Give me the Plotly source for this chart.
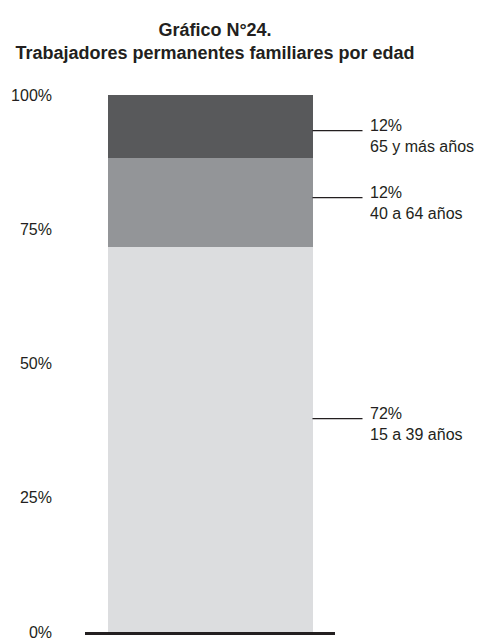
import plotly.graph_objects as go

# Data
categories = ["Trabajadores permanentes familiares"]
groups = ["15 a 39 años", "40 a 64 años", "65 y más años"]
values = [71.7, 16.6, 11.7]
label_pct = ["72%", "12%", "12%"]
colors = ["#dcdddf", "#939598", "#58595b"]
tick_vals = [0, 25, 50, 75, 100]
tick_text = ["0%", "25%", "50%", "75%", "100%"]

FONT = "Liberation Sans, Arial, sans-serif"
BAR_W = 0.82

W, H = 482, 641
L, R, T, B = 85, 147, 95, 0
plot_w = W - L - R

fig = go.Figure()
for g, v, c in zip(groups, values, colors):
    fig.add_trace(go.Bar(x=[0], y=[v], name=g, marker=dict(color=c, line=dict(width=0)),
                         width=BAR_W, hoverinfo="skip"))

bar_edge_px = 0.5 + BAR_W / 2  # in paper fraction
line_len = 50 / plot_w
text_gap = 55 / plot_w

label_nudge = [3.9, 0.9, -0.8]  # layout nudge (data units) for label placement
cum = 0
for g, v, p, nudge in zip(groups, values, label_pct, label_nudge):
    mid = cum + v / 2 + nudge
    cum += v
    fig.add_shape(type="line", xref="paper", yref="y", x0=bar_edge_px, x1=bar_edge_px + line_len,
                  y0=mid, y1=mid, line=dict(color="#231f20", width=1.2))
    fig.add_annotation(xref="paper", yref="y", x=bar_edge_px + text_gap, y=mid,
                       text=f"{p}<br>{g}", showarrow=False, xanchor="left", yanchor="middle",
                       align="left", yshift=-5,
                       font=dict(family=FONT, size=16, color="#231f20"))

fig.update_layout(
    width=W, height=H,
    barmode="stack",
    showlegend=False,
    plot_bgcolor="white", paper_bgcolor="white",
    margin=dict(l=L, r=R, t=T, b=B),
    title=dict(text="<b>Gráfico N°24.</b><br><b>Trabajadores permanentes familiares por edad</b>",
               x=215 / W, xanchor="center", y=1 - 36 / H, yanchor="middle",
               font=dict(family=FONT, size=18, color="#231f20")),
    xaxis=dict(range=[-0.5, 0.5], showticklabels=False, showgrid=False, zeroline=False,
               showline=True, linecolor="#231f20", linewidth=2.5, ticks=""),
    yaxis=dict(range=[0, 100], tickvals=tick_vals, ticktext=tick_text, showgrid=False,
               zeroline=False, showline=False, ticks="", ticklabelstandoff=32,
               ticklabeloverflow="allow",
               tickfont=dict(family=FONT, size=16, color="#231f20")),
)

fig.write_html("out.html", config={"displayModeBar": False},
               post_script="document.body.style.margin='0';document.body.style.overflow='hidden';")
